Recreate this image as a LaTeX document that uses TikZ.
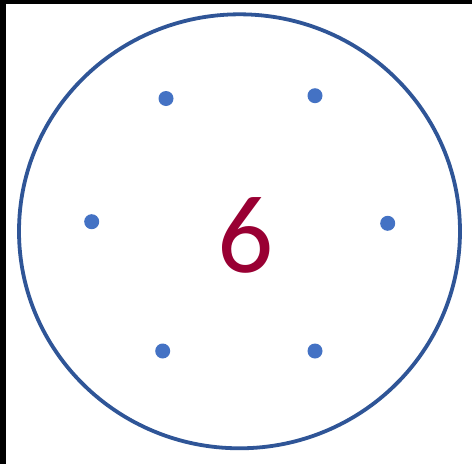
\documentclass[tikz,border=0pt]{standalone}
\usepackage{fontspec}
\setmainfont{Carlito}
\definecolor{ringblue}{RGB}{47,85,151}
\definecolor{dotblue}{RGB}{68,114,196}
\definecolor{numred}{RGB}{153,0,51}
\tikzset{
  ring/.style={draw=ringblue, line width=3.8pt},
  pip/.style={circle, fill=dotblue, inner sep=0pt, minimum size=15pt},
  bar/.style={fill=black}
}
\begin{document}
\begin{tikzpicture}[x=1pt,y=-1pt]
\useasboundingbox (0,0) rectangle (472,464);
\fill[white] (0,0) rectangle (472,464);
\fill[bar] (0,0) rectangle (6,464);
\fill[bar] (0,0) rectangle (472,4);
\draw[ring] (239.5,231.3) ellipse [x radius=220.5, y radius=217];
\node[pip] (p1) at (166,98.5) {};
\node[pip] (p2) at (315,95.7) {};
\node[pip] (p3) at (91.7,221.7) {};
\node[pip] (p4) at (387.7,223.3) {};
\node[pip] (p5) at (162.7,351) {};
\node[pip] (p6) at (315,351) {};
\node[anchor=base, inner sep=0pt, text=numred, font=\fontsize{111}{111}\selectfont] (num) at (246,272) {6};
\end{tikzpicture}
\end{document}
